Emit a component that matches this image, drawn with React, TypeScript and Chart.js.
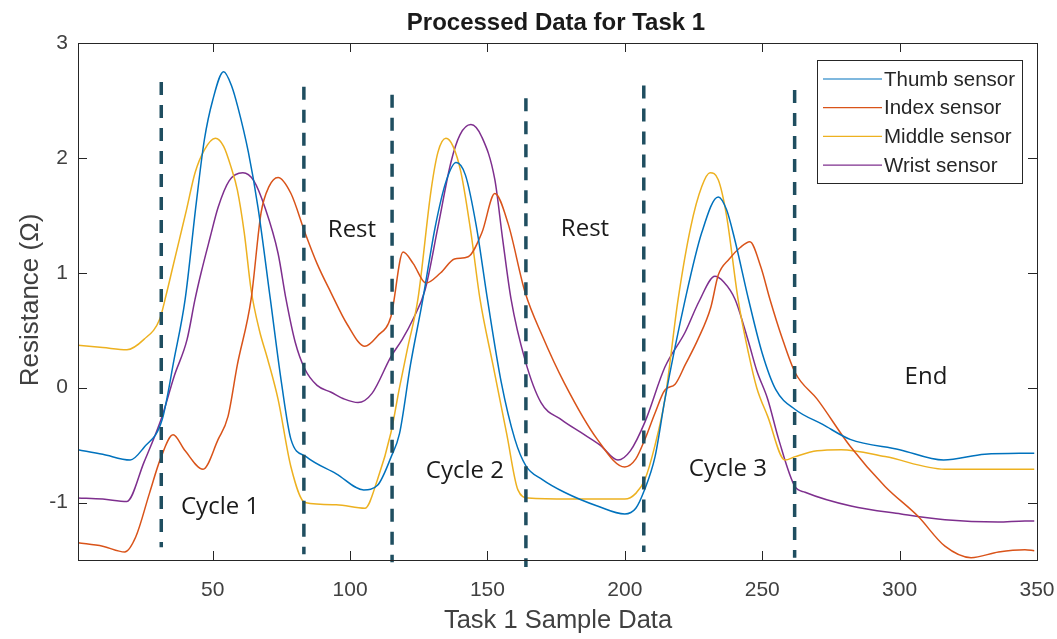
import React, { useEffect, useRef } from 'react';
import { Chart, registerables } from 'chart.js';

Chart.register(...registerables);

// ---- Data ----
const xTickValues = [50, 100, 150, 200, 250, 300, 350];
const yTickValues = [-1, 0, 1, 2, 3];

const thumbX = [1, 10, 20, 25, 31.6, 36, 40, 44, 47, 50, 54, 57, 59.2, 63, 66.5, 71, 75, 78.5, 84, 95, 105, 110, 115, 118, 122, 126.5, 131, 135, 138.6, 142, 146, 150, 155, 160, 164, 170, 178, 190, 200, 204, 207, 211, 214.6, 222, 228, 234, 237, 240, 245, 250, 255, 262, 272, 282, 300, 316, 331, 349];
const thumbY = [-0.54, -0.58, -0.63, -0.52, -0.28, 0.25, 0.77, 1.6, 2.16, 2.5, 2.75, 2.62, 2.44, 2.05, 1.57, 0.77, 0.05, -0.45, -0.6, -0.75, -0.89, -0.85, -0.6, -0.4, 0.2, 0.77, 1.4, 1.8, 1.96, 1.85, 1.4, 0.77, 0.05, -0.45, -0.68, -0.8, -0.91, -1.03, -1.1, -1.05, -0.9, -0.6, -0.1, 0.77, 1.35, 1.66, 1.55, 1.29, 0.77, 0.3, -0.02, -0.19, -0.32, -0.45, -0.54, -0.63, -0.58, -0.57];

const indexX = [1, 10, 18, 22, 27, 31, 35.6, 40, 46.5, 52, 55.6, 59, 64, 67.6, 70.5, 73.8, 78.5, 83.6, 88, 93, 99, 105.4, 110, 114.9, 119.3, 123, 127.6, 133, 138, 143, 148, 152.7, 157.5, 163.7, 170, 178, 190, 200, 204, 207.3, 211, 214.6, 218.3, 222, 226.6, 231.3, 234, 238, 242, 245.5, 249.5, 252.8, 257, 262, 270, 282, 294.7, 306.7, 316.5, 326, 336, 345.6, 349];
const indexY = [-1.35, -1.38, -1.43, -1.3, -0.92, -0.62, -0.41, -0.55, -0.71, -0.45, -0.25, 0.2, 0.77, 1.52, 1.75, 1.83, 1.69, 1.35, 1.08, 0.83, 0.55, 0.36, 0.45, 0.62, 1.18, 1.08, 0.91, 1.0, 1.12, 1.14, 1.35, 1.69, 1.43, 0.83, 0.45, 0.04, -0.45, -0.69, -0.62, -0.45, -0.22, -0.02, 0.03, 0.2, 0.42, 0.7, 0.98, 1.12, 1.22, 1.27, 1.05, 0.77, 0.45, 0.13, -0.1, -0.51, -0.86, -1.12, -1.38, -1.48, -1.43, -1.41, -1.42];

const middleX = [1, 10, 18.8, 25, 30.8, 33, 35.5, 38, 40.5, 43.6, 47, 51, 54, 56.7, 59, 61.5, 64, 67, 70, 73.8, 78.5, 83.6, 95, 105.4, 110, 114.9, 118, 121, 124.7, 129.5, 132, 134.9, 137.5, 140.4, 144, 147.3, 152, 157, 161.1, 164.8, 180, 200, 204, 207.3, 211, 214.6, 219.4, 224, 228, 231, 234, 237, 241.2, 245, 248, 252, 258.3, 262, 270, 278.7, 294.7, 316.5, 345.6, 349];
const middleY = [0.37, 0.35, 0.33, 0.42, 0.6, 0.8, 1.05, 1.3, 1.55, 1.87, 2.07, 2.17, 2.1, 1.92, 1.72, 1.35, 0.85, 0.5, 0.25, -0.1, -0.69, -1.0, -1.02, -1.05, -0.8, -0.39, 0.0, 0.35, 0.77, 1.72, 2.05, 2.17, 2.1, 1.87, 1.35, 0.77, 0.2, -0.4, -0.89, -0.96, -0.97, -0.97, -0.92, -0.8, -0.5, -0.1, 0.77, 1.4, 1.75, 1.87, 1.81, 1.5, 0.77, 0.3, 0.0, -0.25, -0.63, -0.6, -0.55, -0.54, -0.6, -0.71, -0.71, -0.71];

const wristX = [1, 10, 18.8, 25, 31.6, 36, 40.7, 43.6, 45.8, 49, 52, 56, 61, 65, 69, 73.8, 76.7, 80, 83.6, 88, 93.1, 98, 102.9, 108, 114.9, 119, 123, 127.3, 132, 136.7, 140, 144, 148, 152.7, 155.5, 158.6, 163.7, 169.5, 177, 184, 191, 197.5, 202, 207.3, 214.6, 221.9, 227, 232.8, 236, 240.1, 245, 248, 252, 256, 261.9, 265.6, 282.3, 300.5, 316.5, 335.8, 345.6, 349];
const wristY = [-0.96, -0.97, -0.99, -0.65, -0.25, 0.1, 0.42, 0.77, 1.0, 1.3, 1.57, 1.8, 1.87, 1.8, 1.57, 1.17, 0.77, 0.4, 0.16, 0.02, -0.04, -0.1, -0.13, -0.05, 0.27, 0.42, 0.6, 0.85, 1.4, 1.96, 2.2, 2.29, 2.18, 1.81, 1.3, 0.77, 0.24, -0.13, -0.28, -0.39, -0.5, -0.63, -0.55, -0.3, 0.18, 0.48, 0.75, 0.97, 0.92, 0.77, 0.4, 0.15, -0.1, -0.45, -0.86, -0.91, -1.03, -1.1, -1.15, -1.17, -1.16, -1.16];

const dividerX = [31.3, 83.2, 115.3, 164.0, 206.9, 261.8];
const dividerTop = [2.66, 2.62, 2.55, 2.52, 2.63, 2.59];
const dividerBottom = [-1.39, -1.45, -1.52, -1.56, -1.43, -1.48];

const phaseLabels = ['Rest', 'Rest', 'Cycle 1', 'Cycle 2', 'Cycle 3', 'End'];
const phaseLabelX = [100.7, 185.5, 52.7, 141.8, 237.5, 309.6];
const phaseLabelY = [1.37, 1.38, -1.04, -0.73, -0.71, 0.09];

const seriesNames = ['Thumb sensor', 'Index sensor', 'Middle sensor', 'Wrist sensor'];
const seriesColors = ['#0072BD', '#D95319', '#EDB120', '#7E2F8E'];

const titleText = 'Processed Data for Task 1';
const xTitle = 'Task 1 Sample Data';
const yTitle = 'Resistance (\u03A9)';

const zip = (xs: number[], ys: number[]) => xs.map((x, i) => ({ x, y: ys[i] }));

const matlabPlugin = {
  id: 'matlabDecor',
  beforeDraw(chart: any) {
    const ctx = chart.ctx;
    ctx.save();
    ctx.fillStyle = '#ffffff';
    ctx.fillRect(0, 0, chart.width, chart.height);
    ctx.restore();
  },
  afterDraw(chart: any) {
    const ctx = chart.ctx;
    const a = chart.chartArea;
    const xs = chart.scales.x;
    const ys = chart.scales.y;
    ctx.save();
    // box
    ctx.strokeStyle = '#262626';
    ctx.lineWidth = 1;
    ctx.strokeRect(Math.round(a.left) + 0.5, Math.round(a.top) + 0.5, Math.round(a.right - a.left), Math.round(a.bottom - a.top));
    // inward ticks
    const tl = 9;
    ctx.beginPath();
    xTickValues.forEach((v) => {
      const px = Math.round(xs.getPixelForValue(v)) + 0.5;
      ctx.moveTo(px, a.bottom);
      ctx.lineTo(px, a.bottom - tl);
      ctx.moveTo(px, a.top);
      ctx.lineTo(px, a.top + tl);
    });
    yTickValues.forEach((v) => {
      const py = Math.round(ys.getPixelForValue(v)) + 0.5;
      ctx.moveTo(a.left, py);
      ctx.lineTo(a.left + tl, py);
      ctx.moveTo(a.right, py);
      ctx.lineTo(a.right - tl, py);
    });
    ctx.stroke();

    // title
    ctx.fillStyle = '#1a1a1a';
    ctx.font = 'bold 24px "Liberation Sans", Arial, sans-serif';
    ctx.textAlign = 'center';
    ctx.textBaseline = 'middle';
    ctx.fillText(titleText, 556, 23);

    // axis titles
    ctx.fillStyle = '#404040';
    ctx.font = '25.5px "Liberation Sans", Arial, sans-serif';
    ctx.fillText(xTitle, 558, 621);
    ctx.save();
    ctx.translate(31, 300);
    ctx.rotate(-Math.PI / 2);
    ctx.font = '26px "Liberation Sans", Arial, sans-serif';
    ctx.fillText(yTitle, 0, 0);
    ctx.restore();

    // phase labels
    ctx.fillStyle = '#1a1a1a';
    ctx.font = '24px "Open Sans", sans-serif';
    phaseLabels.forEach((t, i) => {
      ctx.fillText(t, xs.getPixelForValue(phaseLabelX[i]), ys.getPixelForValue(phaseLabelY[i]));
    });

    // legend
    const lx = 817, ly = 60, lw = 205, lh = 123;
    ctx.fillStyle = '#ffffff';
    ctx.fillRect(lx, ly, lw, lh);
    ctx.strokeStyle = '#262626';
    ctx.lineWidth = 1;
    ctx.strokeRect(lx + 0.5, ly + 0.5, lw, lh);
    ctx.font = '20.5px "Liberation Sans", Arial, sans-serif';
    ctx.textAlign = 'left';
    seriesNames.forEach((n, i) => {
      const yy = 79 + i * 28.7;
      ctx.strokeStyle = seriesColors[i];
      ctx.lineWidth = 1.2;
      ctx.beginPath();
      ctx.moveTo(823, yy);
      ctx.lineTo(882, yy);
      ctx.stroke();
      ctx.fillStyle = '#262626';
      ctx.fillText(n, 884, yy + 1);
    });
    ctx.restore();
  },
};

export default function App() {
  const ref = useRef<HTMLCanvasElement>(null);
  useEffect(() => {
    document.body.style.margin = '0';
    const seriesX = [thumbX, indexX, middleX, wristX];
    const seriesY = [thumbY, indexY, middleY, wristY];
    const dividerSets = dividerX.map((x, i) => ({
      label: 'divider' + i,
      data: [
        { x, y: dividerTop[i] },
        { x, y: dividerBottom[i] },
      ],
      borderColor: '#1f4e60',
      borderWidth: 3.5,
      borderDash: [13, 10],
      pointRadius: 0,
      clip: false as any,
      tension: 0,
    }));
    const lineSets = seriesNames.map((n, i) => ({
      label: n,
      data: zip(seriesX[i], seriesY[i]),
      borderColor: seriesColors[i],
      borderWidth: 1.5,
      pointRadius: 0,
      cubicInterpolationMode: 'monotone' as const,
      fill: false,
    }));
    const chart = new Chart(ref.current!, {
      type: 'line',
      data: { datasets: [...dividerSets, ...lineSets] as any },
      options: {
        responsive: false,
        animation: false,
        devicePixelRatio: 1,
        layout: { padding: { left: 0, right: 20, top: 43, bottom: 0 } },
        plugins: { legend: { display: false }, title: { display: false }, tooltip: { enabled: false } },
        scales: {
          x: {
            type: 'linear',
            min: 1,
            max: 350,
            grid: { display: false, drawTicks: false },
            border: { display: false },
            ticks: {
              padding: 18,
              color: '#404040',
              font: { family: '"Liberation Sans", Arial, sans-serif', size: 21 },
              maxRotation: 0,
            },
            afterBuildTicks: (s: any) => {
              s.ticks = xTickValues.map((v) => ({ value: v }));
            },
            afterFit: (s: any) => {
              s.height = 79;
              s.paddingLeft = 0;
              s.paddingRight = 0;
            },
          },
          y: {
            type: 'linear',
            min: -1.5,
            max: 3,
            grid: { display: false, drawTicks: false },
            border: { display: false },
            ticks: {
              padding: 10,
              color: '#404040',
              font: { family: '"Liberation Sans", Arial, sans-serif', size: 21 },
            },
            afterBuildTicks: (s: any) => {
              s.ticks = yTickValues.map((v) => ({ value: v }));
            },
            afterFit: (s: any) => {
              s.width = 78;
              s.paddingTop = 0;
              s.paddingBottom = 0;
            },
          },
        },
      },
      plugins: [matlabPlugin],
    });
    return () => chart.destroy();
  }, []);
  return (
    <div style={{ position: 'relative', width: 1057, height: 639, background: '#fff' }}>
      <canvas ref={ref} width={1057} height={639} style={{ display: 'block', width: 1057, height: 639 }} />
    </div>
  );
}
